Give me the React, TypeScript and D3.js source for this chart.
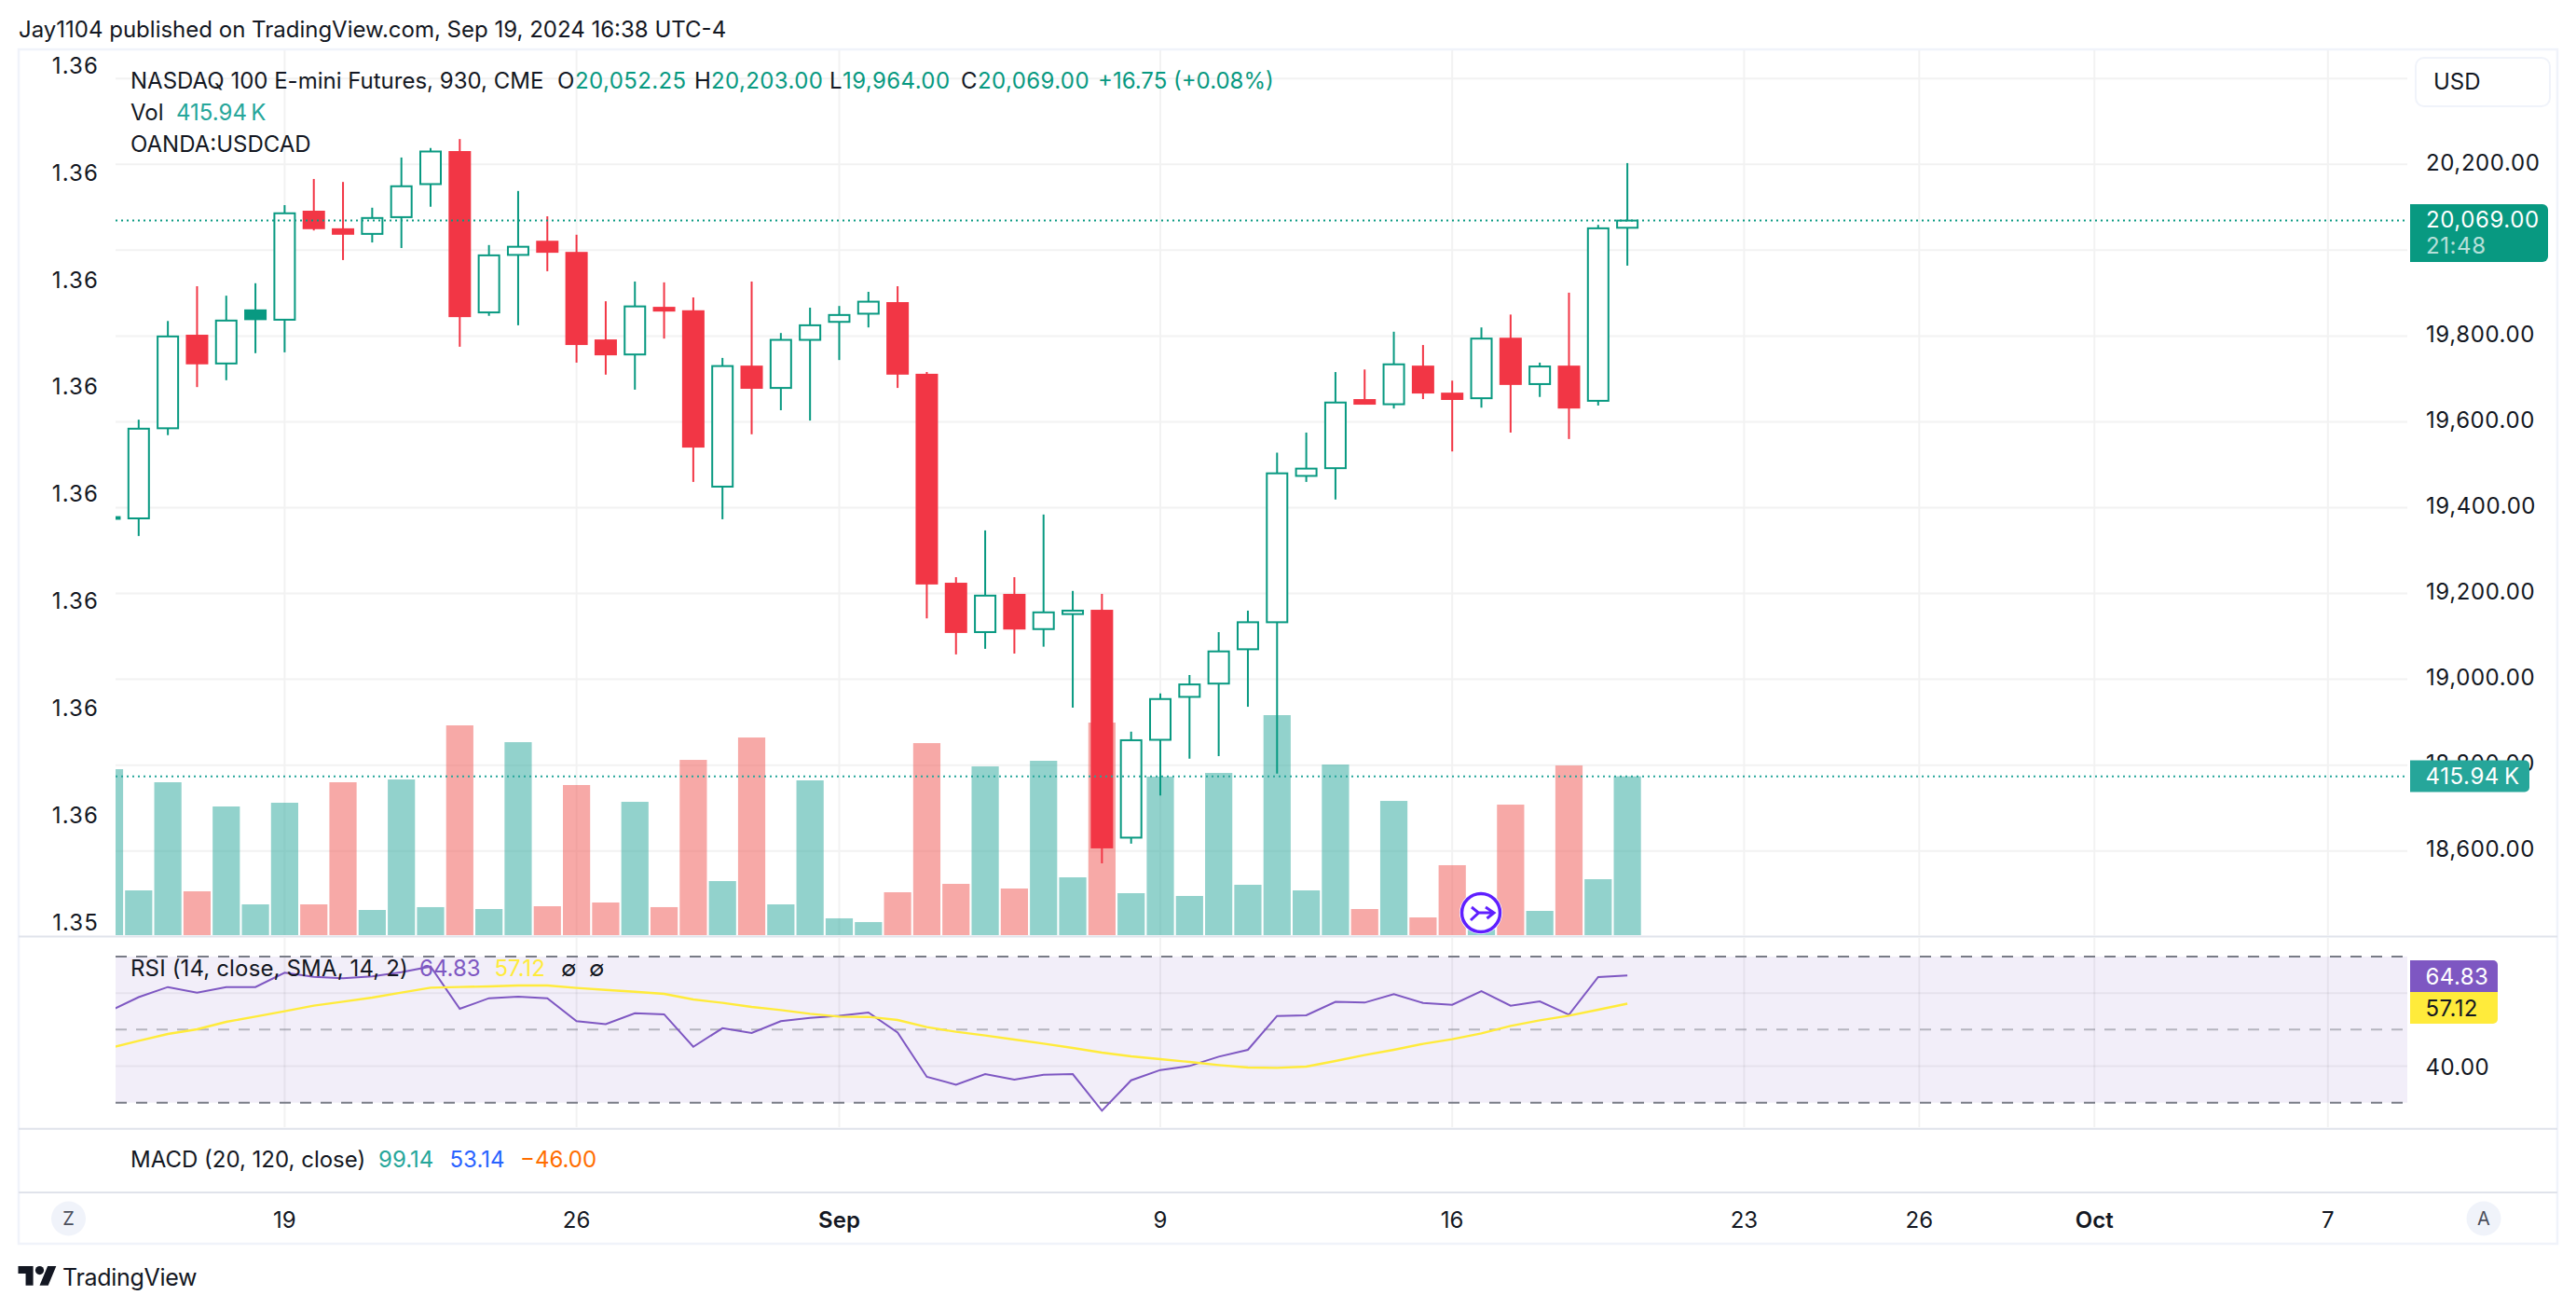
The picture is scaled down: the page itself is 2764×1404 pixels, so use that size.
import React from 'react';
import * as d3 from 'd3';

// first entry is the clipped bar at the left edge of the chart
const opens = [19374,19375,19585,19803,19736,19862,19838,20092,20051,20038,20077,20154,20231,19855,19989,20022,19996,19792,19757,19868,19860,19449,19731,19679,19791,19833,19852,19879,19712,19225,19110,19199,19117,19152,19162,18631,18859,18959,18990,19070,19133,19474,19492,19653,19641,19731,19668,19655,19796,19688,19731,19649,20052.25];
const highs = [19400,19605,19835,19916,19894,19923,20105,20166,20159,20099,20216,20238,20259,20012,20138,20079,20036,19881,19927,19925,19890,19749,19927,19807,19866,19870,19903,19916,19716,19238,19347,19238,19384,19206,19199,18878,18967,19010,19110,19160,19528,19575,19716,19722,19810,19779,19696,19820,19850,19738,19901,20059,20203];
const lows = [19360,19334,19569,19681,19697,19760,19762,20046,19977,20018,20005,20101,19775,19847,19825,19951,19738,19710,19675,19794,19460,19373,19571,19627,19603,19744,19820,19679,19142,19058,19071,19060,19076,18934,18571,18617,18729,18815,18821,18936,18780,19460,19419,19640,19631,19653,19531,19633,19575,19658,19560,19638,19964];
const closes = [19378,19584,19799,19734,19836,19837,20086,20049,20036,20075,20149,20230,19844,19988,20008,19994,19779,19755,19869,19857,19540,19730,19677,19791,19825,19849,19880,19710,19221,19108,19195,19116,19156,19160,18606,18858,18954,18988,19065,19133,19480,19491,19645,19640,19734,19666,19651,19794,19686,19729,19631,20051,20069];
const volumes = [434.7,117.2,400.5,114.8,337,80.6,346.8,80.6,400.5,65.9,407.8,73.3,549.5,68.4,505.5,75.7,393.2,85.5,349.2,73.3,459.1,141.6,517.7,80.6,405.4,44,34.2,112.3,503,134.3,442,122.1,456.7,151.4,556.8,109.9,415.1,102.6,424.9,131.9,576.3,117.2,446.9,68.4,351.6,46.4,183.2,15.5,341.9,63.5,444.4,146.5,415.94];
const rsi = [55.1,58.9,61.66,60.13,61.66,61.66,65.57,64.47,64.04,64.55,65.74,67.28,55.7,58.6,59,58.6,52.3,51.5,54.5,54.2,45.3,50.4,49.07,52.3,53.2,53.8,54.68,49.2,37.07,34.94,37.83,36.3,37.66,37.83,27.8,36.13,38.94,40.05,42.6,44.47,53.75,53.92,57.6,57.4,59.7,57.3,56.8,60.55,56.55,57.75,54.1,64.4,64.83];
const rsiMa = [44.98,46.94,48.81,50.09,52.13,53.57,55.02,56.56,57.66,58.77,60.13,61.49,61.66,61.83,62.09,62.09,61.41,60.89,60.38,59.79,58.26,57.32,56.22,55.36,54.34,53.57,53.49,52.64,50.68,49.41,48.39,47.28,46.17,44.98,43.7,42.68,41.92,41.15,40.3,39.62,39.54,39.88,41.41,43.03,44.47,46.09,47.36,48.98,51.02,52.56,53.83,55.45,57.12];

const priceGrid = [20400,20200,20000,19800,19600,19400,19200,19000,18800,18600];
const priceLabels = [20200,19800,19600,19400,19200,19000,18800,18600];
const leftLabels = ['1.36','1.36','1.36','1.36','1.36','1.36','1.36','1.36','1.35'];
const timeTicks = [6,16,25,36,46,56,62,68,76];
const timeLabels = ['19','26','Sep','9','16','23','26','Oct','7'];
const boldTimeLabels = ['Sep','Oct'];
const lastPrice = 20069;
const lastVolume = 415.94;
const rsiGridLevels = [60,40];
const rsiBands = [70,30];

const GREEN = '#089981';
const RED = '#F23645';
const TEXT = '#131722';
const TEAL = '#26A69A';
const GRID = '#F2F2F2';
const SEP = '#E0E3EB';
const OUTER = '#F0F3FA';
const PURPLE = '#7E57C2';
const YELLOW = '#FFEB3B';
const FONT = 'Inter, "Noto Sans", sans-serif';

const L = 124, R = 2583;
const x = d3.scaleLinear().domain([0, 76]).range([117.48, 2497.8]);
const yP = d3.scaleLinear().domain([18600, 20200]).range([912.7, 176.3]);
const yV = d3.scaleLinear().domain([0, lastVolume]).range([1003, 832.7]);
const yR = d3.scaleLinear().domain([30, 70]).range([1182.7, 1026]);
const yLeft = d3.scaleLinear().domain([0, 8]).range([70.5, 989]);
const fmt = d3.format(',.2f');

const T = ({ x: tx, y, fill = TEXT, size = 24, weight = 400, anchor = 'start', opacity, ls, children }: any) => (
  <text x={tx} y={y} fill={fill} fontSize={size} fontWeight={weight} textAnchor={anchor} opacity={opacity}
    letterSpacing={ls} dominantBaseline="central" fontFamily={FONT}>{children}</text>
);

const rsiLine = d3.line<number>().x((_, i) => x(i)).y(d => yR(d));

export default function App() {
  const isUp = (i: number) => i === 0 || closes[i] >= closes[i - 1];
  return (
    <svg width={2764} height={1404} viewBox="0 0 2764 1404"
      style={{ position: 'absolute', left: 0, top: 0, display: 'block', background: '#fff' }}>
      <defs>
        <clipPath id="mainClip"><rect x={L} y={54} width={R - L} height={949} /></clipPath>
        <clipPath id="rsiClip"><rect x={L} y={1005} width={R - L} height={204} /></clipPath>
      </defs>

      <T x={20} y={31}>Jay1104 published on TradingView.com, Sep 19, 2024 16:38 UTC-4</T>

      {/* RSI band */}
      <rect x={L} y={yR(70)} width={R - L} height={yR(30) - yR(70)} fill={PURPLE} fillOpacity={0.1} />

      {/* grid */}
      {priceGrid.map(p => (
        <line key={p} x1={L} x2={R} y1={yP(p)} y2={yP(p)} stroke={GRID} strokeWidth={2} />
      ))}
      {rsiGridLevels.map(v => (
        <line key={v} x1={L} x2={R} y1={yR(v)} y2={yR(v)} stroke="#000" strokeOpacity={0.05} strokeWidth={2} />
      ))}
      {timeTicks.map(t => (
        <g key={t}>
          <line x1={x(t)} x2={x(t)} y1={54} y2={1003} stroke={GRID} strokeWidth={2} />
          <line x1={x(t)} x2={x(t)} y1={1006} y2={1209} stroke="#000" strokeOpacity={0.05} strokeWidth={2} />
        </g>
      ))}

      {/* RSI bands and lines */}
      {rsiBands.map(v => (
        <line key={v} x1={L} x2={R} y1={yR(v)} y2={yR(v)} stroke="#787B86" strokeWidth={2} strokeDasharray="12 10" />
      ))}
      <line x1={L} x2={R} y1={yR(50)} y2={yR(50)} stroke="#787B86" strokeOpacity={0.5} strokeWidth={2} strokeDasharray="12 10" />
      <g clipPath="url(#rsiClip)" fill="none">
        <path d={rsiLine(rsi) || ''} stroke={PURPLE} strokeWidth={2} />
        <path d={rsiLine(rsiMa) || ''} stroke={YELLOW} strokeWidth={2.4} />
      </g>

      {/* volume */}
      <g clipPath="url(#mainClip)">
        {volumes.map((v, i) => (
          <rect key={i} x={x(i) - 14.6} width={29.2} y={yV(v)} height={yV(0) - yV(v)}
            fill={isUp(i) ? 'rgb(38,166,154)' : 'rgb(239,83,80)'} fillOpacity={0.5} />
        ))}
      </g>

      {/* candles */}
      <g clipPath="url(#mainClip)">
        {closes.map((c, i) => {
          const col = isUp(i) ? GREEN : RED;
          const o = opens[i];
          const hollow = c >= o;
          const top = yP(Math.max(o, c));
          const bot = yP(Math.min(o, c));
          return (
            <g key={i}>
              <line x1={x(i)} x2={x(i)} y1={yP(highs[i])} y2={yP(lows[i])} stroke={col} strokeWidth={2} />
              {hollow
                ? <rect x={x(i) - 11} width={22} y={top} height={bot - top} fill="#fff" stroke={col} strokeWidth={2} />
                : <rect x={x(i) - 12} width={24} y={top} height={bot - top} fill={col} />}
            </g>
          );
        })}
      </g>

      {/* last price / last volume lines */}
      <line x1={L} x2={R} y1={yP(lastPrice)} y2={yP(lastPrice)} stroke={GREEN} strokeWidth={2} strokeDasharray="2 4" />
      <line x1={L} x2={R} y1={yV(lastVolume)} y2={yV(lastVolume)} stroke={TEAL} strokeWidth={2} strokeDasharray="2 4" />

      {/* bar replay icon */}
      <g transform="translate(1589,979)">
        <circle r={23} fill="#fff" />
        <circle r={20.5} fill="#fff" stroke="#5F1FFF" strokeWidth={3.5} />
        <path d="M-10 -6L-2.5 0L-11 8M-2.5 0H14M5 -6L14 0L6.5 6" fill="none" stroke="#5F1FFF" strokeWidth={3} />
      </g>

      {/* panes */}
      <rect x={20} y={53} width={2724} height={1281} fill="none" stroke={OUTER} strokeWidth={2.5} />
      <line x1={20} x2={2744} y1={1004.5} y2={1004.5} stroke={SEP} strokeWidth={2} />
      <line x1={20} x2={2744} y1={1210.7} y2={1210.7} stroke={SEP} strokeWidth={2} />
      <line x1={20} x2={2744} y1={1279} y2={1279} stroke={SEP} strokeWidth={2} />

      {/* left axis */}
      {leftLabels.map((s, i) => (
        <T key={i} x={106} y={yLeft(i)} anchor="end" ls={1.1}>{s}</T>
      ))}

      {/* right axis */}
      {priceLabels.map(p => (
        <T key={p} x={2603} y={yP(p) - 2} ls={0.6}>{fmt(p)}</T>
      ))}
      <rect x={2592} y={62} width={144} height={52} rx={9} fill="#fff" stroke={OUTER} strokeWidth={2} />
      <T x={2611} y={87}>USD</T>

      <path d="M2586 219H2728a6 6 0 0 1 6 6V275a6 6 0 0 1 -6 6H2586Z" fill={GREEN} />
      <T x={2603} y={235} fill="#fff" ls={0.6}>{fmt(lastPrice)}</T>
      <T x={2603} y={263} fill="#fff" opacity={0.7} ls={0.6}>21:48</T>

      <path d="M2586 815.5H2709a5 5 0 0 1 5 5V844.5a5 5 0 0 1 -5 5H2586Z" fill={TEAL} />
      <T x={2602.5} y={832} fill="#fff" ls={0.6}>415.94{'\u202F'}K</T>

      <path d="M2586 1030H2675a5 5 0 0 1 5 5V1064H2586Z" fill={PURPLE} />
      <T x={2602.5} y={1047} fill="#fff" ls={0.4}>64.83</T>
      <path d="M2586 1064H2680V1093a5 5 0 0 1 -5 5H2586Z" fill={YELLOW} />
      <T x={2602.5} y={1081} fill={TEXT} ls={0.4}>57.12</T>
      <T x={2602.5} y={1144} ls={0.4}>40.00</T>

      {/* time axis */}
      {timeTicks.map((t, i) => (
        <T key={t} x={x(t)} y={1308} anchor="middle" weight={boldTimeLabels.includes(timeLabels[i]) ? 600 : 400}>{timeLabels[i]}</T>
      ))}
      <circle cx={73.5} cy={1307} r={18.5} fill={OUTER} />
      <T x={73.5} y={1307} anchor="middle" size={20} fill="#4A4E5A">Z</T>
      <circle cx={2665} cy={1307} r={18.5} fill={OUTER} />
      <T x={2665} y={1307} anchor="middle" size={20} fill="#4A4E5A">A</T>

      {/* legends */}
      <T x={140} y={86}>NASDAQ 100 E-mini Futures, 930, CME</T>
      <T x={598} y={86}>O</T><T x={617} y={86} fill={GREEN} ls={0.4}>20,052.25</T>
      <T x={745} y={86}>H</T><T x={763} y={86} fill={GREEN} ls={0.4}>20,203.00</T>
      <T x={890} y={86}>L</T><T x={904} y={86} fill={GREEN} ls={0.4}>19,964.00</T>
      <T x={1031} y={86}>C</T><T x={1049} y={86} fill={GREEN} ls={0.4}>20,069.00</T>
      <T x={1178} y={86} fill={GREEN}>+16.75 (+0.08%)</T>
      <T x={140} y={120}>Vol</T>
      <T x={189} y={120} fill={TEAL}>415.94{'\u202F'}K</T>
      <T x={140} y={154}>OANDA:USDCAD</T>

      <T x={140} y={1038} ls={0.15}>RSI (14, close, SMA, 14, 2)</T>
      <T x={450} y={1038} fill={PURPLE}>64.83</T>
      <T x={530.5} y={1038} fill={YELLOW}>57.12</T>
      <T x={602} y={1038}>∅</T>
      <T x={632} y={1038}>∅</T>

      <T x={140} y={1243}>MACD (20, 120, close)</T>
      <T x={406} y={1243} fill={TEAL}>99.14</T>
      <T x={482.5} y={1243} fill="#2962FF">53.14</T>
      <T x={558} y={1243} fill="#FF6D00">−46.00</T>

      {/* brand */}
      <g transform="translate(19.5,1353.4) scale(1.15)" fill={TEXT}>
        <path d="M14 22H7V11H0V4h14v18zM28 22h-8l7.5-18h8L28 22z" />
        <circle cx={20} cy={8} r={4} />
      </g>
      <T x={67} y={1370} size={25} weight={400} ls={-0.3}>TradingView</T>
    </svg>
  );
}
